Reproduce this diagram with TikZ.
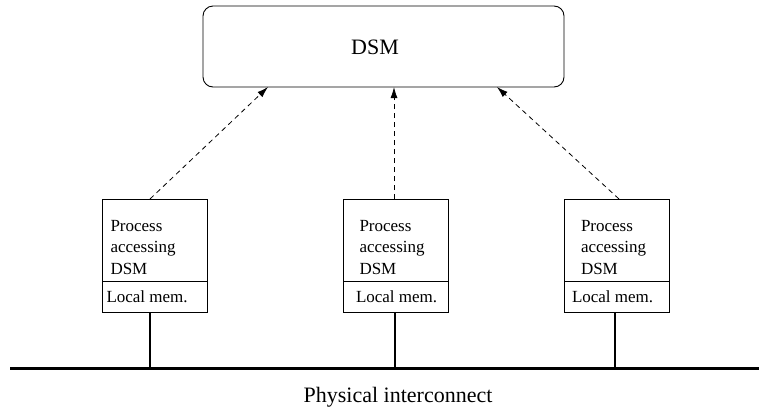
\documentclass[tikz,border=0pt]{standalone}
\usepackage{fontspec}
\setmainfont{Liberation Serif}
\usetikzlibrary{arrows.meta}
\begin{document}
\begin{tikzpicture}[x=1pt,y=-1pt,
  every node/.style={inner sep=0pt, outer sep=0pt},
  procbox/.style={draw, line width=0.9pt, minimum width=105pt, minimum height=82pt},
  membox/.style={draw, line width=0.9pt, minimum width=105pt, minimum height=31pt, anchor=north},
  proctext/.style={font=\fontsize{17}{21.5}\selectfont, text width=90pt, align=left, anchor=base west},
  memtext/.style={font=\fontsize{17}{20}\selectfont, anchor=base west},
  dsmbox/.style={draw, rounded corners=10pt, line width=0.9pt, minimum width=361pt, minimum height=81pt},
  bigtext/.style={font=\fontsize{22}{26}\selectfont},
  access/.style={dash pattern=on 5pt off 4pt, line width=0.8pt, -{Latex[length=11pt,width=7pt]}},
  drop/.style={line width=2.2pt},
  busline/.style={line width=3pt},
  caption/.style={font=\fontsize{22}{26}\selectfont, anchor=base}]

\useasboundingbox (0,0) rectangle (759,408);

% shared memory abstraction
\node[dsmbox] (dsm) at (383.5,46.5) {};
\node[bigtext] (dsmlabel) at (375,47) {DSM};

% the three nodes: process part above, local memory below
\node[procbox] (u1) at (154.5,240) {};
\node[membox] (m1) at (u1.south) {};
\node[procbox] (u2) at (396,240) {};
\node[membox] (m2) at (u2.south) {};
\node[procbox] (u3) at (616.5,240) {};
\node[membox] (m3) at (u3.south) {};

\node[proctext] (t1) at (110.5,231) {Process\\accessing\\DSM};
\node[proctext] (t2) at (359.5,231) {Process\\accessing\\DSM};
\node[proctext] (t3) at (581,231) {Process\\accessing\\DSM};

\node[memtext] (l1) at (106.5,302) {Local mem.};
\node[memtext] (l2) at (356,302) {Local mem.};
\node[memtext] (l3) at (572,302) {Local mem.};

% attachment points of the dashed accesses
\coordinate (s1) at (150,0);
\coordinate (e1) at (268,0);
\coordinate (s2) at (394,0);
\coordinate (s3) at (619,0);
\coordinate (e3) at (497,0);

\draw[access] (u1.north -| s1) -- (dsm.south -| e1);
\draw[access] (u2.north -| s2) -- (dsm.south -| s2);
\draw[access] (u3.north -| s3) -- (dsm.south -| e3);

% physical bus and drops
\coordinate (busL) at (10,368);
\coordinate (busR) at (759,368);
\coordinate (d1) at (150,368);
\coordinate (d2) at (395,368);
\coordinate (d3) at (615,368);

\draw[busline] (busL) -- (busR);
\draw[drop] (m1.south -| d1) -- (d1);
\draw[drop] (m2.south -| d2) -- (d2);
\draw[drop] (m3.south -| d3) -- (d3);

\node[caption] (phys) at (398,402) {Physical interconnect};
\end{tikzpicture}
\end{document}
